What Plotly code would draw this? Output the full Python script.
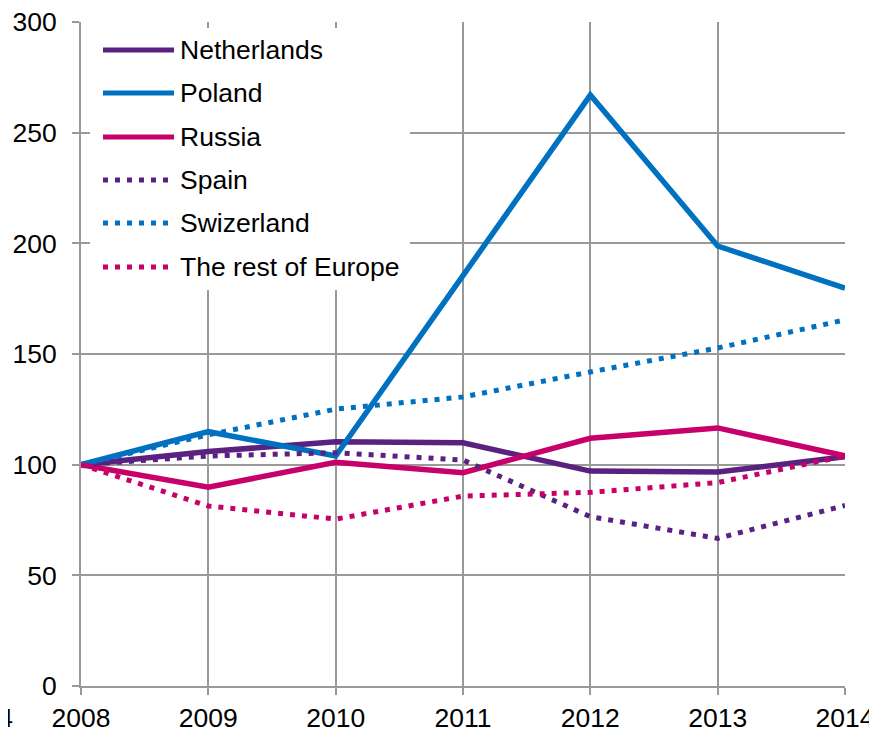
import plotly.graph_objects as go

years = [2008, 2009, 2010, 2011, 2012, 2013, 2014]
netherlands = [100, 105.9, 110.4, 109.9, 97.1, 96.7, 103.6]
poland = [100, 114.9, 103.9, 185.7, 267.0, 198.8, 179.8]
russia = [100, 89.8, 101.1, 96.4, 111.9, 116.6, 104.0]
spain = [100, 103.9, 105.4, 102.1, 76.5, 66.7, 81.6]
switzerland = [100, 113.5, 125.1, 130.6, 141.9, 152.7, 165.4]
rest_of_europe = [100, 81.3, 75.4, 85.8, 87.5, 91.9, 103.9]

names = ["Netherlands", "Poland", "Russia", "Spain", "Swizerland", "The rest of Europe"]
series = [netherlands, poland, russia, spain, switzerland, rest_of_europe]
colors = ["#5b2181", "#0070c0", "#c8006a", "#5b2181", "#0070c0", "#c8006a"]
dashes = ["solid", "solid", "solid", "5px,7px", "5px,7px", "5px,7px"]

y_ticks = [0, 50, 100, 150, 200, 250, 300]

# page offset of the figure (default body margin) is compensated here
OFF = 8
W, H = 877 - OFF, 730 - OFF
L, R, T, B = 81 - OFF, 32, 22 - OFF, 44
pw, ph = W - L - R, H - T - B
FS = 26.5

fig = go.Figure()
for n, s, c, d in zip(names, series, colors, dashes):
    fig.add_trace(go.Scatter(
        x=years, y=s, name=n, mode="lines",
        line=dict(color=c, width=5.5 if d == "solid" else 5, dash=d),
        showlegend=False,
    ))

# helpers converting page pixel positions to paper coordinates
def px_x(p):
    return (p - OFF - L) / pw

def px_y(p):
    return (H - B - (p - OFF)) / ph

shapes = []
annotations = []
# legend box (white background hiding grid)
shapes.append(dict(type="rect", xref="paper", yref="paper",
                   x0=px_x(90), x1=px_x(410), y0=px_y(290), y1=px_y(28),
                   fillcolor="white", line=dict(width=0), layer="above"))
leg_y = [50, 93, 137, 180, 223, 267]
for n, c, d, ly in zip(names, colors, dashes, leg_y):
    shapes.append(dict(type="line", xref="paper", yref="paper",
                       x0=px_x(103), x1=px_x(174) if d == "solid" else px_x(168),
                       y0=px_y(ly), y1=px_y(ly),
                       line=dict(color=c, width=5, dash=d), layer="above"))
    annotations.append(dict(text=n, xref="paper", yref="paper",
                            x=px_x(178), y=px_y(ly), xanchor="left", yanchor="middle",
                            showarrow=False, font=dict(size=FS, color="black")))
# clipped stray label at the left edge
annotations.append(dict(text="2014", xref="paper", yref="paper",
                        x=px_x(15), y=px_y(718), xanchor="right", yanchor="middle",
                        showarrow=False, font=dict(size=FS, color="black")))

grid_c = "#999999"
fig.update_layout(
    width=W, height=H,
    margin=dict(l=L, r=R, t=T, b=B, pad=0, autoexpand=False),
    paper_bgcolor="white", plot_bgcolor="white",
    font=dict(family="Liberation Sans, Arial, sans-serif", size=FS, color="black"),
    shapes=shapes, annotations=annotations,
    xaxis=dict(range=[2008, 2014], tickvals=years, ticktext=[str(y) for y in years],
               showgrid=True, gridcolor=grid_c, gridwidth=1.5,
               showline=True, linecolor=grid_c, linewidth=2,
               ticks="outside", ticklen=7, tickcolor=grid_c, tickwidth=2,
               ticklabeloverflow="allow",
               zeroline=False, fixedrange=True, automargin=False),
    yaxis=dict(range=[0, 300], tickvals=y_ticks,
               showgrid=True, gridcolor=grid_c, gridwidth=1.5,
               showline=True, linecolor=grid_c, linewidth=2, mirror=False,
               ticks="outside", ticklen=7, tickcolor=grid_c, tickwidth=2,
               ticklabelstandoff=10, ticklabeloverflow="allow",
               zeroline=False, fixedrange=True, automargin=False),
)

fig.write_html("out.html")
